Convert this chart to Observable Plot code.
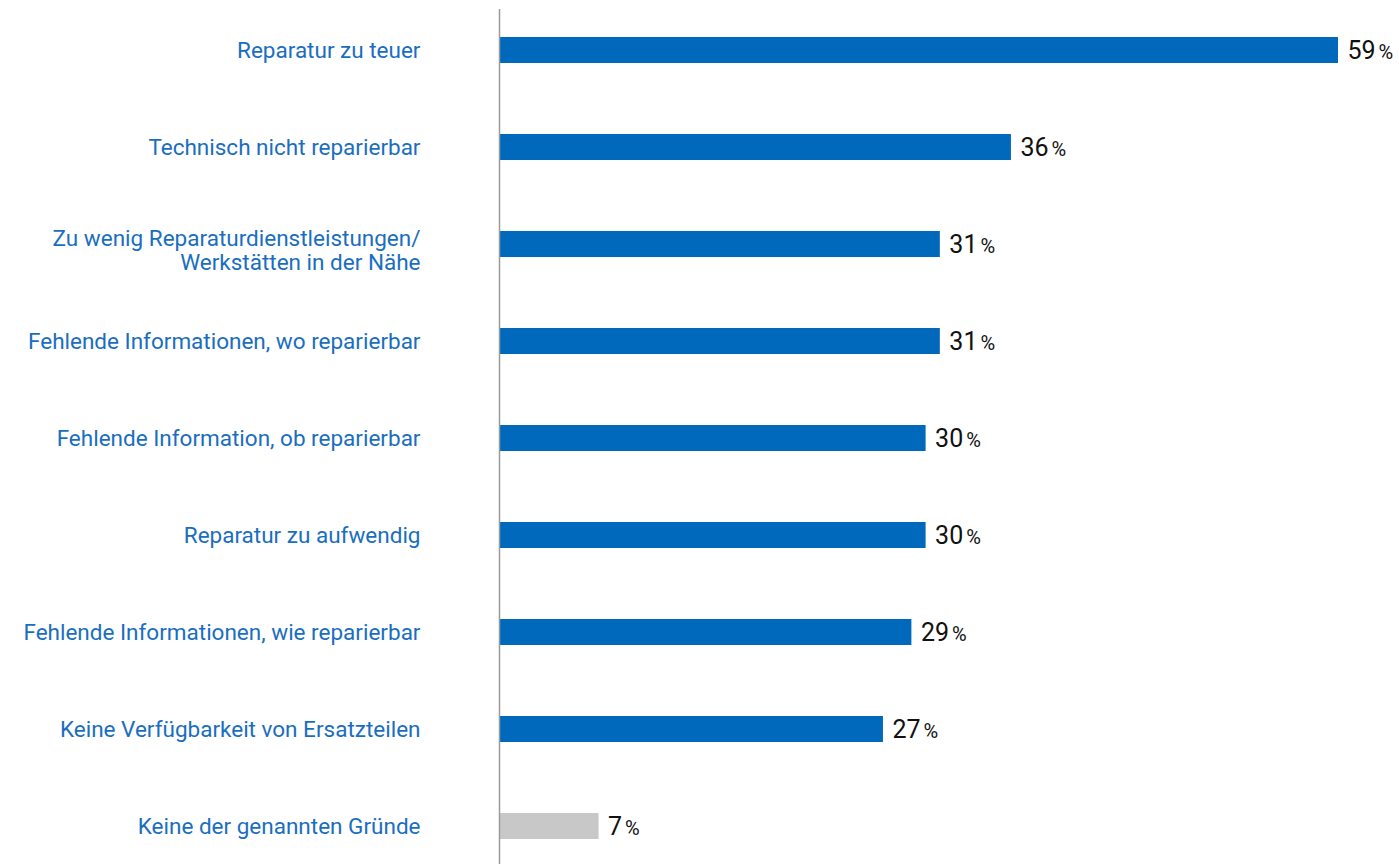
<!DOCTYPE html>
<html>
<head>
<meta charset="utf-8">
<script src="https://cdn.jsdelivr.net/npm/d3@7"></script>
<script src="https://cdn.jsdelivr.net/npm/@observablehq/plot@0.6"></script>
<style>
  html, body { margin: 0; padding: 0; background: #fff; }
  #chart svg { display: block; }
</style>
</head>
<body>
<div id="chart"></div>
<script>
const categories = [
  "Reparatur zu teuer",
  "Technisch nicht reparierbar",
  "Zu wenig Reparaturdienstleistungen/\nWerkstätten in der Nähe",
  "Fehlende Informationen, wo reparierbar",
  "Fehlende Information, ob reparierbar",
  "Reparatur zu aufwendig",
  "Fehlende Informationen, wie reparierbar",
  "Keine Verfügbarkeit von Ersatzteilen",
  "Keine der genannten Gründe"
];
const values = [59, 36, 31, 31, 30, 30, 29, 27, 7];
const groups = ["main", "main", "main", "main", "main", "main", "main", "main", "none"];

const data = categories.map((c, i) => ({category: c, value: values[i], group: groups[i]}));

const chart = Plot.plot({
  width: 1399,
  height: 864,
  marginLeft: 499,
  marginRight: 61,
  marginTop: 9,
  marginBottom: 0,
  style: {fontFamily: "Roboto, sans-serif", background: "#fff"},
  x: {domain: [0, 59], axis: null},
  y: {domain: categories, range: [0, 876], paddingInner: 0.733, paddingOuter: 0.37, label: null},
  color: {domain: ["main", "none"], range: ["#0069BC", "#C8C8C8"]},
  marks: [
    Plot.barX(data, {x: "value", y: "category", fill: "group"}),
    Plot.ruleX([0], {stroke: "#9a9a9a", strokeWidth: 1.5}),
    Plot.axisY({tickSize: 0, tickPadding: 79, fontSize: 22.5, lineHeight: 1.05, fill: "#1A6EC0", label: null, className: "ylabels"}),
    Plot.text(data, {x: "value", y: "category", text: d => String(d.value), dx: 9, textAnchor: "start", fontSize: 25, fontWeight: 400, fill: "#111", className: "vlabel"})
  ]
});

// Add the smaller "%" suffix after each value
d3.select(chart).selectAll(".vlabel text").each(function() {
  const t = d3.select(this);
  const num = t.text();
  t.text(null);
  t.append("tspan").text(num);
  t.append("tspan").attr("font-size", 20).attr("dx", 3).text("%");
});

// Two-line label sits slightly lower in the reference
d3.select(chart).selectAll(".ylabels text").each(function() {
  if (this.querySelectorAll("tspan").length > 1) {
    const t = d3.select(this);
    const tr = t.attr("transform") || "";
    t.attr("transform", tr + " translate(0,6)");
  }
});

document.getElementById("chart").appendChild(chart);
</script>
</body>
</html>
